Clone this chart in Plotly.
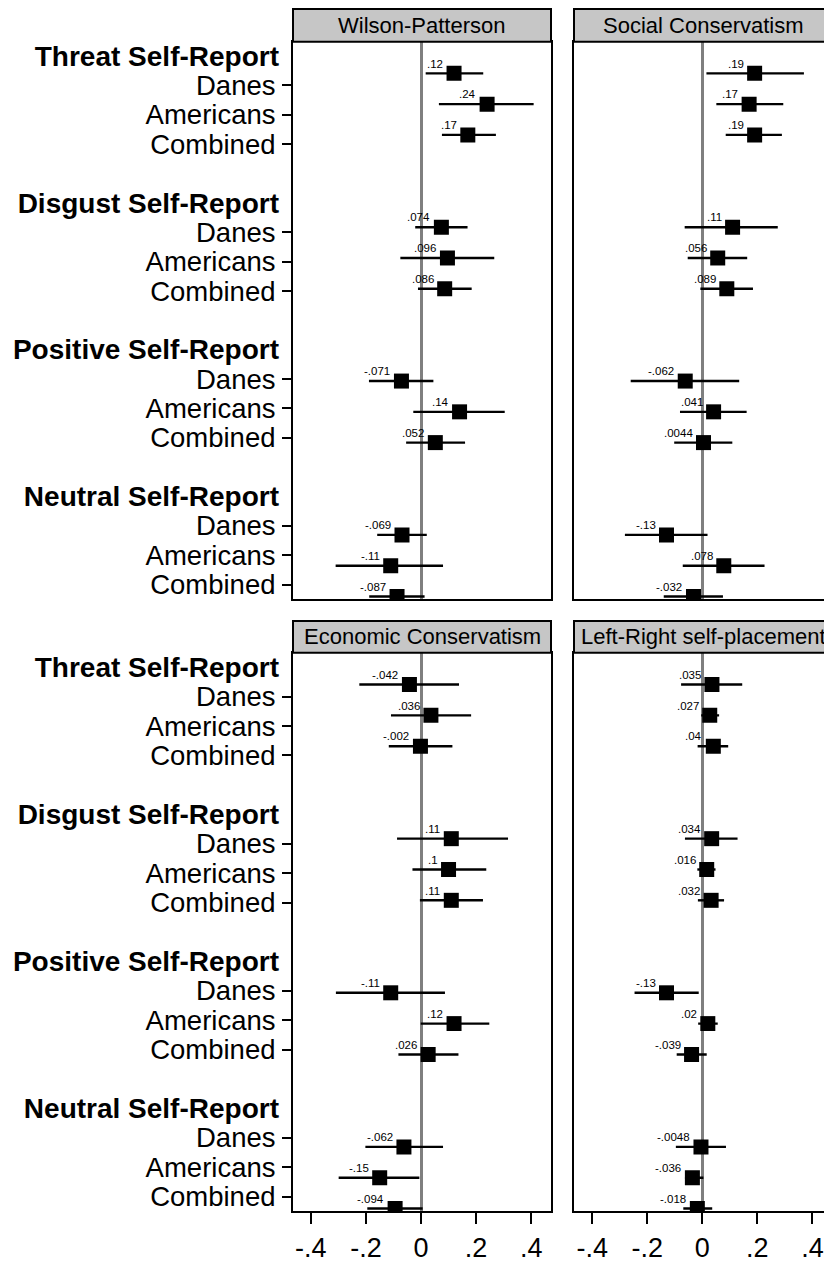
import plotly.graph_objects as go

# ---------------- data ----------------
panels = ["Wilson-Patterson", "Social Conservatism", "Economic Conservatism", "Left-Right self-placement"]
groups = ["Threat Self-Report", "Disgust Self-Report", "Positive Self-Report", "Neutral Self-Report"]
samples = ["Danes", "Americans", "Combined"]

wp_coef = [0.12, 0.24, 0.17, 0.074, 0.096, 0.086, -0.071, 0.14, 0.052, -0.069, -0.11, -0.087]
wp_lo = [0.017, 0.065, 0.076, -0.021, -0.075, -0.011, -0.189, -0.028, -0.054, -0.159, -0.310, -0.188]
wp_hi = [0.226, 0.409, 0.272, 0.169, 0.266, 0.184, 0.045, 0.304, 0.160, 0.021, 0.080, 0.013]

sc_coef = [0.19, 0.17, 0.19, 0.11, 0.056, 0.089, -0.062, 0.041, 0.0044, -0.13, 0.078, -0.032]
sc_lo = [0.015, 0.051, 0.085, -0.064, -0.053, -0.007, -0.260, -0.081, -0.102, -0.281, -0.071, -0.140]
sc_hi = [0.369, 0.294, 0.289, 0.274, 0.163, 0.184, 0.134, 0.161, 0.109, 0.019, 0.226, 0.075]

ec_coef = [-0.042, 0.036, -0.002, 0.11, 0.1, 0.11, -0.11, 0.12, 0.026, -0.062, -0.15, -0.094]
ec_lo = [-0.224, -0.109, -0.117, -0.087, -0.031, -0.004, -0.309, -0.001, -0.082, -0.202, -0.299, -0.195]
ec_hi = [0.138, 0.182, 0.114, 0.316, 0.237, 0.225, 0.087, 0.248, 0.136, 0.080, -0.006, 0.006]

lr_coef = [0.035, 0.027, 0.04, 0.034, 0.016, 0.032, -0.13, 0.02, -0.039, -0.0048, -0.036, -0.018]
lr_lo = [-0.077, -0.004, -0.017, -0.063, -0.018, -0.016, -0.246, -0.015, -0.093, -0.096, -0.063, -0.069]
lr_hi = [0.145, 0.061, 0.094, 0.128, 0.048, 0.079, -0.013, 0.056, 0.016, 0.086, 0.004, 0.036]

x_tickvals = [-0.4, -0.2, 0, 0.2, 0.4]
x_ticktext = ["-.4", "-.2", "0", ".2", ".4"]

# ---------------- layout constants ----------------
W, H = 824, 1263
FONT = "Liberation Sans, Arial, Helvetica, sans-serif"

def fx(p):
    return p / W

def fy(p):
    return 1 - p / H

# (left px, right px, zero px)
panel_x = [(293, 551, 421), (574, 832, 702.3), (293, 551, 421), (574, 832, 702.3)]
# (header top, header bottom/plot top, plot bottom)
panel_y = [(8, 41, 603), (8, 41, 603), (625, 657, 1220), (625, 657, 1220)]
PX_PER_UNIT = 275.4
marker_range = [18.09, -0.03]
label_range = [18.5, -0.49]

slots = [5 * g + 1 + s for g in range(len(groups)) for s in range(len(samples))]
header_slots = [5 * g for g in range(len(groups))]
row_names = [s for g in groups for s in samples]

def fmt(v):
    s = f"{v:g}"
    return s.replace("0.", ".", 1)

series = [(wp_coef, wp_lo, wp_hi), (sc_coef, sc_lo, sc_hi),
          (ec_coef, ec_lo, ec_hi), (lr_coef, lr_lo, lr_hi)]

fig = go.Figure()
annotations = []
shapes = []
layout = {}

for i, (name, (coef, lo, hi)) in enumerate(zip(panels, series), start=1):
    xl, xr, x0 = panel_x[i - 1]
    ht, pt, pb = panel_y[i - 1]
    right_edge = min(xr, W)
    fig.add_trace(go.Scatter(
        x=coef, y=slots, mode="markers",
        xaxis=f"x{i}", yaxis=f"y{i}",
        marker=dict(symbol="square", size=15, color="black"),
        error_x=dict(type="data", symmetric=False,
                     array=[h - c for h, c in zip(hi, coef)],
                     arrayminus=[c - l for c, l in zip(coef, lo)],
                     color="black", thickness=2.4, width=0),
        showlegend=False, hoverinfo="skip",
    ))
    bottom = i in (3, 4)
    layout[f"xaxis{i}"] = dict(
        domain=[fx(xl), fx(right_edge)],
        range=[(xl - x0) / PX_PER_UNIT, (right_edge - x0) / PX_PER_UNIT],
        anchor=f"y{i}",
        showgrid=False,
        zeroline=True, zerolinecolor="#7f7f7f", zerolinewidth=2.5,
        showline=True, linecolor="black", linewidth=2,
        mirror=True,
        ticks="outside" if bottom else "",
        ticklen=11, tickwidth=1.8, tickcolor="black",
        tickvals=x_tickvals, ticktext=x_ticktext,
        showticklabels=bottom,
        tickfont=dict(family=FONT, size=27, color="black"),
        fixedrange=True,
    )
    left_panel = i in (1, 3)
    layout[f"yaxis{i}"] = dict(
        domain=[fy(pb), fy(pt)],
        range=marker_range,
        anchor=f"x{i}",
        showgrid=False, zeroline=False,
        showline=True, linecolor="black", linewidth=2,
        mirror=left_panel,
        ticks="", showticklabels=False,
        fixedrange=True,
    )
    # header box
    shapes.append(dict(type="rect", xref="paper", yref="paper",
                       x0=fx(xl), x1=fx(xr), y0=fy(pt), y1=fy(ht),
                       fillcolor="#c6c6c6", line=dict(color="black", width=2),
                       layer="above"))
    annotations.append(dict(x=fx((xl + xr) / 2), y=fy((ht + pt) / 2),
                            xref="paper", yref="paper", text=name,
                            showarrow=False, xanchor="center", yanchor="middle",
                            font=dict(family=FONT, size=22, color="black")))
    # value labels
    for c, s in zip(coef, slots):
        annotations.append(dict(x=c, y=s, xref=f"x{i}", yref=f"y{i}",
                                text=fmt(c), showarrow=False,
                                xanchor="right", yanchor="middle",
                                xshift=-9, yshift=9.8,
                                font=dict(family=FONT, size=11.5, color="#000000")))

# label axes for left panels
label_axis_id = 5
for base in (1, 3):
    sid = label_axis_id
    gid = label_axis_id + 1
    label_axis_id += 2
    fig.add_trace(go.Scatter(x=[None], y=[None], xaxis=f"x{base}", yaxis=f"y{sid}",
                             showlegend=False, hoverinfo="skip"))
    fig.add_trace(go.Scatter(x=[None], y=[None], xaxis=f"x{base}", yaxis=f"y{gid}",
                             showlegend=False, hoverinfo="skip"))
    layout[f"yaxis{sid}"] = dict(
        overlaying=f"y{base}", anchor=f"x{base}", side="left",
        range=label_range, showgrid=False, zeroline=False, showline=False,
        tickvals=slots, ticktext=row_names,
        ticks="outside", ticklen=10, tickwidth=1.8, tickcolor="black",
        ticklabelstandoff=1,
        tickfont=dict(family=FONT, size=27.5, color="black"),
        fixedrange=True,
    )
    layout[f"yaxis{gid}"] = dict(
        overlaying=f"y{base}", anchor=f"x{base}", side="left",
        range=label_range, showgrid=False, zeroline=False, showline=False,
        tickvals=header_slots, ticktext=groups,
        ticks="", ticklabelstandoff=13,
        tickfont=dict(family=FONT, size=28, color="black", weight="bold"),
        fixedrange=True,
    )

fig.update_layout(
    width=W, height=H,
    margin=dict(l=0, r=0, t=0, b=0, pad=0),
    paper_bgcolor="white", plot_bgcolor="white",
    showlegend=False,
    annotations=annotations,
    shapes=shapes,
    **layout,
)

fig.write_html("out.html", config={"displayModeBar": False},
               post_script="document.body.style.margin='0';document.body.style.overflow='hidden';")
